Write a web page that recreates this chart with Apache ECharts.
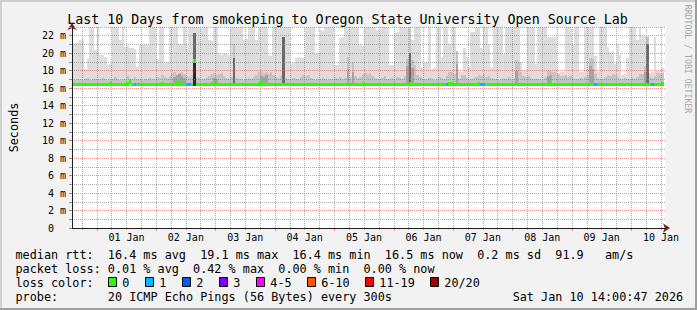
<!DOCTYPE html>
<html><head><meta charset="utf-8">
<script src="https://cdn.jsdelivr.net/npm/echarts@6/dist/echarts.min.js"></script>
<style>html,body{margin:0;padding:0;background:#f2f2f2}#c{width:697px;height:310px}</style>
</head><body><div id="c"></div>
<script>
// ---------------- data (hours counted from Dec 31 14:00) ----------------
const dayLabels = ['01 Jan','02 Jan','03 Jan','04 Jan','05 Jan','06 Jan','07 Jan','08 Jan','09 Jan','10 Jan'];
const firstNoonHour = 22;     // Jan 1 12:00
const hoursShown = 240;
const yMax = 23;              // ms
const minPing = 16.2;         // ms, bottom of the smoke

// max ping per hour (top of the lightest smoke), ms
const maxPing = [
 21.2,21.2,21.3,21.5,21.5,18.2,19.5,23,23,20.4,
 23,19.8,19.8,19.6,18.6,18.8,23,23,23,21.5,
 23,20.7,20.8,20.6,20.6,20.5,18.4,20.9,20.9,21.0,
 20.9,23,23,23,19.3,23,23,18.9,19.0,23,
 23,23,23,21.1,21.1,23,20.5,23,
 23,23,23,23,22.8,23,23,21.5,21.4,23,
 23,19.9,19.8,20.0,19.9,19.8,23,23,23,23,
 23,21.5,21.6,23,23,23,21.5,23,23,23,
 23,19.8,19.7,23,23,23,23,23,23,23,
 18.8,18.9,19.5,19.6,19.4,19.5,23,23,
 23,23,19.9,20.0,22.6,22.5,23,23,23,23,
 18.6,18.7,21.7,21.8,23,23,23,23,23,23,
 20.9,20.8,23,23,23,23,23,22.7,22.7,23,
 23,23,18.6,18.6,22.3,22.4,23,23,23,23,
 23,21.5,23,23,23,18.4,18.9,19.0,
 23,18.2,18.3,23,23,19.6,23,23,21.1,23,
 23,20.3,17.8,17.9,20.6,19.6,18.4,22.4,22.4,23,
 23,20.6,23,23,21.1,18.4,23,23,23,23,
 19.9,23,23,23,23,23,23,19.0,18.0,18.1,
 23,23,23,18.8,23,23,23,23,
 21.9,21.9,21.8,21.9,17.7,17.8,17.8,23,23,23,
 20.9,23,23,17.8,17.9,23,23,23,23,19.7,
 17.8,23,23,23,20.7,20.1,20.2,18.8,20.9,19.8,
 17.5,17.6,19.5,23,23,23,21.5,23,22.0,22.0,
 22.0,17.7,17.8,21.8,18.0,18.1,18.3
];

// upper smoke band (2nd shade) per hour, ms
const upperSmoke = [
 17.0,16.9,17.0,17.1,16.9,17.0,17.2,16.9,17.0,17.1,
 16.9,17.0,17.2,17.0,16.9,17.1,17.0,17.3,17.0,16.9,
 17.1,17.0,17.4,17.2,17.0,17.3,17.1,17.0,16.9,17.1,
 17.0,17.2,17.0,17.1,17.3,17.2,17.5,17.3,17.2,17.4,
 17.6,17.8,17.5,17.7,17.9,17.6,17.4,17.3,17.5,22.3,
 17.3,17.2,17.0,17.1,17.2,17.4,17.6,17.7,17.5,17.6,
 17.7,17.4,17.2,17.1,17.3,21.0,17.2,17.0,17.1,16.9,
 17.0,17.2,17.1,17.3,17.5,17.8,18.0,17.7,17.9,17.6,
 17.8,17.5,17.3,17.2,17.4,21.8,17.2,17.0,17.1,17.2,
 17.0,17.1,17.3,17.5,17.4,17.5,17.2,17.0,16.9,17.1,
 17.0,17.2,17.1,16.9,17.0,17.1,17.2,17.0,17.3,17.1,
 17.2,19.6,17.3,19.0,17.4,17.2,17.3,17.6,17.7,17.5,
 17.7,17.4,17.2,17.1,17.0,17.2,17.4,17.1,17.0,17.2,
 17.1,17.3,17.2,17.0,17.4,19.3,23.0,19.2,18.6,17.5,
 17.3,17.2,17.0,17.1,17.2,17.0,16.9,17.1,17.3,17.2,
 17.1,17.4,17.8,17.9,17.6,20.2,17.1,17.5,17.5,17.2,
 17.0,17.1,17.2,17.3,17.5,17.4,17.6,17.3,17.4,17.2,
 17.0,17.1,16.9,17.0,17.2,17.1,17.3,17.0,17.1,19.2,
 19.0,17.8,17.4,17.3,17.4,17.2,17.0,17.1,17.0,16.9,
 17.1,17.3,18.0,18.0,17.9,17.8,17.6,17.4,17.4,17.5,
 17.3,17.4,17.2,17.1,17.0,17.2,17.1,17.3,17.5,19.4,
 19.3,17.6,17.2,17.0,17.1,17.3,17.5,17.4,17.6,17.5,
 17.3,17.1,17.0,17.2,17.1,17.0,17.2,17.1,17.3,17.6,
 17.6,18.5,21.9,17.3,17.2,17.4,17.7,17.6,17.7
];

// median rtt per hour, ms
const medianRtt = [
 16.4,16.4,16.4,16.4,16.4,16.4,16.4,16.4,16.4,16.4,
 16.4,16.4,16.4,16.4,16.4,16.5,16.4,16.4,16.4,16.4,
 16.4,16.4,16.5,16.7,16.4,16.4,16.4,16.4,16.4,16.4,
 16.4,16.4,16.4,16.4,16.4,16.4,16.5,16.4,16.4,16.4,
 16.4,16.4,16.5,16.5,16.4,16.4,16.4,16.4,16.4,19.1,
 16.4,16.4,16.4,16.4,16.4,16.4,16.5,16.4,16.4,16.4,
 16.4,16.4,16.4,16.4,16.4,16.4,16.4,16.4,16.4,16.4,
 16.4,16.4,16.4,16.4,16.4,16.5,16.5,16.4,16.4,16.4,
 16.4,16.4,16.4,16.4,16.4,16.4,16.4,16.4,16.4,16.4,
 16.4,16.4,16.4,16.4,16.4,16.4,16.4,16.4,16.4,16.4,
 16.4,16.4,16.4,16.4,16.4,16.4,16.4,16.4,16.4,16.4,
 16.4,16.4,16.4,16.4,16.4,16.4,16.4,16.5,16.4,16.4,
 16.4,16.4,16.4,16.4,16.4,16.4,16.4,16.4,16.4,16.4,
 16.4,16.4,16.4,16.4,16.4,16.4,16.5,16.4,16.4,16.4,
 16.4,16.4,16.4,16.4,16.4,16.4,16.4,16.4,16.4,16.4,
 16.4,16.4,16.5,16.5,16.4,16.4,16.4,16.4,16.4,16.4,
 16.4,16.4,16.4,16.4,16.5,16.4,16.4,16.4,16.4,16.4,
 16.4,16.4,16.4,16.4,16.4,16.4,16.4,16.4,16.4,16.4,
 16.4,16.4,16.4,16.4,16.4,16.4,16.4,16.4,16.4,16.4,
 16.4,16.4,16.5,16.5,16.4,16.4,16.4,16.4,16.4,16.4,
 16.4,16.4,16.4,16.4,16.4,16.4,16.4,16.4,16.4,16.4,
 16.4,16.4,16.4,16.4,16.4,16.4,16.4,16.4,16.4,16.4,
 16.4,16.4,16.4,16.4,16.4,16.4,16.4,16.4,16.4,16.4,
 16.4,16.4,16.4,16.4,16.4,16.4,16.4,16.4,16.5
];

// sparse darker smoke: [hour, top ms]
const innerSmoke = [[41,17.3],[42,17.5],[43,17.6],[44,17.4],[45,17.2],[57,17.2],[58,17.1],[76,17.4],[77,17.3],[78,17.5],[111,18.2],[113,17.8],[135,18.5],[137,18.3],[155,18.8],[179,18.0],[192,17.4],[193,17.5],[209,18.5],[210,18.2],[231,17.8]];
const darkSmoke  = [[49,22.3],[65,19.5],[85,21.8],[136,20.0],[232,21.0]];
const coreSmoke  = [[49,19.0]];
// hours with lost pings: [hour, pings lost of 20]
const lossEvents = [[25,1],[46,1],[47,1],[151,1],[165,1],[166,1],[211,1],[234,1]];

const lossLabels = ['0','1','2','3','4-5','6-10','11-19','20/20'];
const lossColors = ['#26ff00','#00b8ff','#0059ff','#7e00ff','#ff00ff','#ff5500','#ff0000','#a10000'];

const titleText = 'Last 10 Days from smokeping to Oregon State University Open Source Lab';
const legendLines = [
 'median rtt:  16.4 ms avg  19.1 ms max  16.4 ms min  16.5 ms now  0.2 ms sd  91.9   am/s',
 'packet loss: 0.01 % avg  0.42 % max  0.00 % min  0.00 % now',
 'loss color:',
 'probe:       20 ICMP Echo Pings (56 Bytes) every 300s                 Sat Jan 10 14:00:47 2026'
];

// ---------------- chart ----------------
const FONT = '"DejaVu Sans Mono", monospace';
const nb = s => s.replace(/ /g, '\u00a0');
const toMap = list => { const m = {}; list.forEach(([k, v]) => { m[k] = v; }); return m; };
const innerMap = toMap(innerSmoke), darkMap = toMap(darkSmoke), coreMap = toMap(coreSmoke), lossMap = toMap(lossEvents);
const lossIndex = n => n <= 3 ? n : n <= 5 ? 4 : n <= 10 ? 5 : n <= 19 ? 6 : 7;

const seriesData = maxPing.map((top, i) => [
  i, minPing, top, upperSmoke[i],
  innerMap[i] || 0, darkMap[i] || 0, coreMap[i] || 0,
  medianRtt[i], lossIndex(lossMap[i] || 0)
]);

const shades = ['#dddddd', '#c4c4c4', '#a4a4a4', '#6a6a6a', '#2a2a2a'];

function renderItem(params, api) {
  const i = api.value(0);
  const left = Math.round(api.coord([i, 0])[0]);
  const right = Math.round(api.coord([i + 1, 0])[0]);
  const children = [];
  const band = (lo, hi, fill) => {
    if (!(hi > lo)) return;
    const yTop = Math.round(api.coord([i, Math.min(hi, yMax)])[1]);
    const yBot = Math.round(api.coord([i, lo])[1]);
    children.push({ type: 'rect', shape: { x: left, y: yTop, width: right - left, height: yBot - yTop }, style: { fill } });
  };
  const lo = api.value(1);
  for (let k = 0; k < 5; k++) band(lo, api.value(2 + k), shades[k]);
  const m = api.value(7);
  band(m - 0.2, m + 0.2, lossColors[api.value(8)]);
  return { type: 'group', children };
}

const RED = 'rgba(222,79,79,0.6)';
const GREY = 'rgba(143,143,143,0.75)';
const NONE = 'rgba(0,0,0,0)';
// x split lines every 2 h: 18:00, 06:00, 12:00 grey, midnight red
const xSplitColors = [NONE, NONE, GREY, NONE, NONE, RED, NONE, NONE, GREY, NONE, NONE, GREY];
const hourTicks = Array.from({ length: hoursShown + 1 }, (_, i) => String(i));

const graphic = [
  { type: 'rect', shape: { x: 0, y: 0, width: 697, height: 2 }, style: { fill: '#cfcfcf' }, silent: true },
  { type: 'rect', shape: { x: 0, y: 0, width: 2, height: 310 }, style: { fill: '#cfcfcf' }, silent: true },
  { type: 'rect', shape: { x: 0, y: 308, width: 697, height: 2 }, style: { fill: '#9e9e9e' }, silent: true },
  { type: 'rect', shape: { x: 695, y: 0, width: 2, height: 310 }, style: { fill: '#9e9e9e' }, silent: true },
  { type: 'text', x: 347.5, y: 19.5, silent: true,
    style: { text: nb(titleText), font: '13.3px ' + FONT, fill: '#000', textAlign: 'center', textVerticalAlign: 'middle' } },
  { type: 'text', x: 688, y: 59, rotation: -Math.PI / 2, silent: true,
    style: { text: nb('RRDTOOL / TOBI OETIKER'), font: '8.2px ' + FONT, fill: '#a8a8a8', textAlign: 'center', textVerticalAlign: 'middle' } }
];
legendLines.forEach((line, k) => {
  graphic.push({ type: 'text', x: 15.5, y: 254.5 + 14 * k, silent: true,
    style: { text: nb(line), font: '11.8px ' + FONT, fill: '#000', textAlign: 'left', textVerticalAlign: 'middle' } });
});
let bx = 108.3;
lossLabels.forEach((lab, k) => {
  graphic.push({ type: 'rect', silent: true, shape: { x: Math.round(bx) + 0.5, y: 277.5, width: 8, height: 9 },
    style: { fill: lossColors[k], stroke: '#000', lineWidth: 1 } });
  graphic.push({ type: 'text', x: bx + 14, y: 282.5, silent: true,
    style: { text: lab, font: '11.8px ' + FONT, fill: '#000', textAlign: 'left', textVerticalAlign: 'middle' } });
  bx += 30 + lab.length * 7;
});

const chart = echarts.init(document.getElementById('c'), null, { renderer: 'svg' });
chart.setOption({
  animation: false,
  backgroundColor: '#f2f2f2',
  grid: { left: 66, right: 31, top: 27, bottom: 82, show: true, backgroundColor: '#ffffff', borderWidth: 0 },
  xAxis: [
    { type: 'value', min: 0, max: hoursShown, interval: 2, position: 'bottom', z: 4,
      axisLine: { show: true, onZero: false, lineStyle: { color: '#1f1f1f', width: 1 } },
      axisTick: { show: false },
      axisLabel: { show: true, margin: 4, fontFamily: FONT, fontSize: 10, color: '#000',
        formatter: v => (v >= firstNoonHour && (v - firstNoonHour) % 24 === 0) ? nb(dayLabels[(v - firstNoonHour) / 24] || '') : '' },
      splitLine: { show: true, lineStyle: { type: [1, 1], width: 1, color: xSplitColors } } },
    { type: 'category', data: hourTicks, boundaryGap: false, position: 'bottom', z: 3,
      axisLine: { show: true, onZero: false, symbol: ['none', 'arrow'], symbolSize: [7, 7], symbolOffset: [0, 4], lineStyle: { color: '#801f1f' } },
      axisTick: { show: true, length: 3, interval: (i) => i % 24 === 10, lineStyle: { color: RED } },
      axisLabel: { show: false }, splitLine: { show: false } },
    { type: 'category', data: hourTicks, boundaryGap: false, position: 'bottom', z: 3,
      axisLine: { show: false },
      axisTick: { show: true, length: 2, interval: (i) => i % 6 === 4 && i % 24 !== 10, lineStyle: { color: GREY } },
      axisLabel: { show: false }, splitLine: { show: false } }
  ],
  yAxis: [
    { type: 'value', min: 0, max: yMax, interval: 1, position: 'left', z: 4,
      axisLine: { show: true, onZero: false, lineStyle: { color: '#1f1f1f' } },
      axisTick: { show: true, length: 3, lineStyle: { color: '#8f8f8f' } },
      axisLabel: { margin: 6, fontFamily: FONT, fontSize: 10, color: '#000',
        formatter: v => v === 0 ? '0\u00a0\u00a0' : (v % 2 === 0 ? v + '\u00a0m' : '') },
      splitLine: { show: true, lineStyle: { type: [1, 1], width: 1, color: [RED, GREY] } },
      name: 'Seconds', nameLocation: 'middle', nameRotate: 90, nameGap: 52,
      nameTextStyle: { fontFamily: FONT, fontSize: 11.8, color: '#000' } },
    { type: 'value', min: 0, max: yMax, position: 'left', z: 3,
      axisLine: { show: true, onZero: false, symbol: ['none', 'arrow'], symbolSize: [7, 7], symbolOffset: [0, 4], lineStyle: { color: '#801f1f' } },
      axisTick: { show: false }, axisLabel: { show: false }, splitLine: { show: false } }
  ],
  series: [{
    type: 'custom', xAxisIndex: 0, yAxisIndex: 0, z: 2,
    renderItem, data: seriesData, encode: { x: 0, y: 2 }, silent: true
  }],
  graphic
});
</script></body></html>
